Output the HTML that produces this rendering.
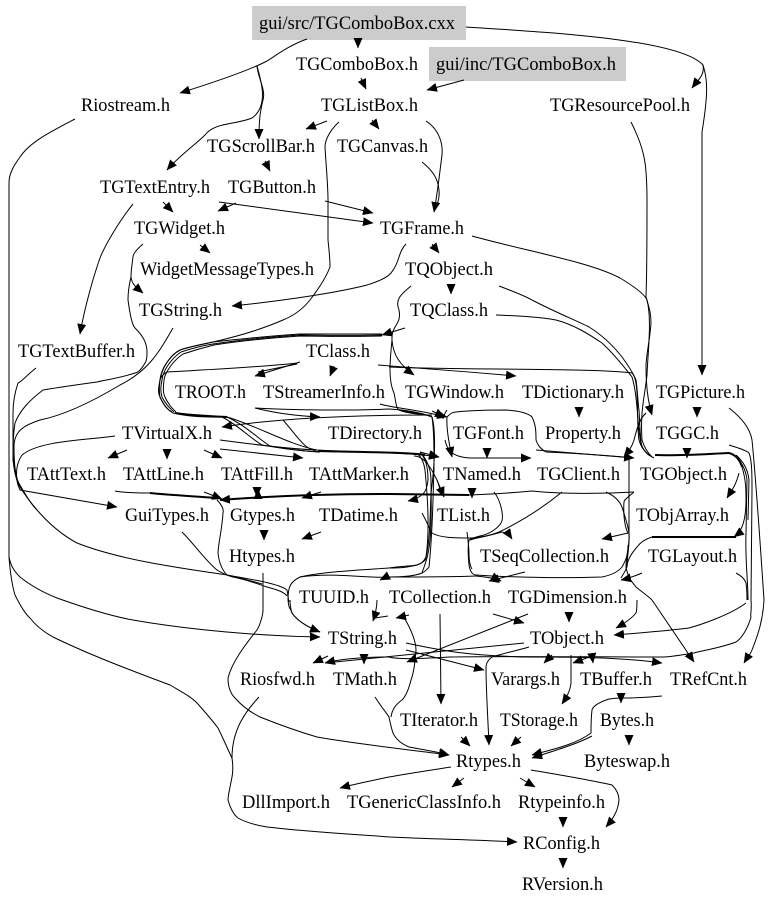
<!DOCTYPE html>
<html><head><meta charset="utf-8"><style>
html,body{margin:0;padding:0;background:#fff;width:779px;height:907px;overflow:hidden}
svg{display:block}
text{font-family:"Liberation Serif",serif;font-size:18.5px;fill:#000}
path{fill:none;stroke:#000;stroke-width:1}
path.a{marker-end:url(#h)}
path.t{stroke-width:2}
#h path{fill:#000;stroke:none}
</style></head><body>
<svg width="779" height="907" viewBox="0 0 779 907" xmlns="http://www.w3.org/2000/svg">
<defs><marker id="h" markerUnits="userSpaceOnUse" markerWidth="12" markerHeight="10" refX="10" refY="4.5" orient="auto"><path d="M0,0L10.5,4.5L0,9z"/></marker></defs>
<rect x="252" y="6" width="214" height="34" fill="#ccc"/>
<rect x="429" y="47" width="197" height="34" fill="#ccc"/>

<path class="a" d="M358,38L358,48"/>
<path class="a" d="M307,39C290,45 278,54 267,61C250,70 215,82 180,93"/>
<path class="a" d="M257,66C258,78 266,90 263,100C260,112 259,120 259,139"/>
<path class="a" d="M257,66C260,78 270,105 252,118C235,125 215,122 205,135C195,145 180,155 167,170"/>
<path class="a" d="M466,27C560,33 680,40 703,65C705,75 698,80 692,88"/>
<path class="a" d="M703,65C708,80 708,95 702,132L702,375"/>
<path class="a" d="M361,78L366,89"/>
<path class="a" d="M464,80L427,90"/>
<path class="a" d="M327,121L306,129"/>
<path class="a" d="M372,120L379,129"/>
<path class="a" d="M426,121C440,130 443,145 442,155C440,170 438,190 434,212"/>
<path d="M422,162C432,170 438,178 439,190C440,198 437,205 434,212"/>
<path class="a" d="M265,161L270,171"/>
<path class="a" d="M236,203L218,211"/>
<path class="a" d="M325,201L373,213"/>
<path class="a" d="M219,202L373,223"/>
<path class="a" d="M163,202L173,212"/>
<path class="a" d="M133,204C120,220 105,245 100,258C95,272 85,305 80,334"/>
<path class="a" d="M200,245L210,253"/>
<path class="a" d="M143,244C136,250 133,254 133,257C132,265 131,270 131,277C132,285 137,288 143,293"/>
<path d="M131,277C129,285 128,295 128,300C130,315 132,325 135,328C142,335 147,342 147,352C147,358 146,362 145,363C140,372 136,373 135,373C120,378 105,380 97,382C75,385 55,388 43,390C30,400 20,410 15,423C13,435 13,445 13,453C14,465 16,475 17,480C24,492 30,503 37,510C50,525 62,535 77,543C120,560 180,568 227,575C255,580 280,584 287,590C288,595 288,598 289,602"/>
<path d="M173,328C160,350 150,370 120,385C95,400 65,415 40,420C25,425 15,430 14,445C14,465 15,475 20,487C28,500 34,506 37,510"/>

<path class="a" d="M432,244L439,253"/>
<path class="a" d="M406,244C398,252 400,262 391,273C385,280 370,284 367,285C340,292 290,300 232,306"/>
<path class="a" d="M451,284L451,294"/>
<path class="a" d="M411,286C400,295 395,300 399,310C402,325 391,325 392,340C393,355 400,365 414,375"/>
<path d="M392,340C390,360 388,380 394,393C396,402 396,408 399,410C410,415 425,413 432,417C436,430 435,465 431,493C430,520 430,540 426,557C423,563 420,564 417,565C405,568 398,568 389,568C360,570 320,572 300,577C290,582 288,587 288,600C289,610 290,607 292,613C298,622 310,628 320,632"/>
<path class="a" d="M339,122C330,130 325,140 325,147C326,165 328,185 328,200C328,215 328,225 328,240C329,250 330,258 330,267C325,280 316,292 310,300C302,310 293,316 283,320C260,330 235,337 213,342C198,345 188,347 180,350C170,355 162,368 160,380C159,388 159,392 160,397C164,406 168,410 173,413C195,418 212,417 227,417C255,425 290,445 317,450C350,452 410,452 439,457"/>
<path d="M472,236C530,252 590,262 620,278C635,287 645,295 647,300C652,320 648,350 647,375C645,395 640,410 642,440C645,450 650,455 652,457"/>
<path d="M499,286C515,292 525,296 532,300C555,312 575,320 589,327C605,337 615,348 622,357C630,368 634,375 636,380C638,395 638,405 639,410C640,425 640,440 642,447C645,452 650,456 654,458"/>
<path d="M496,315C520,316 540,317 556,320C575,325 590,335 602,343C615,355 625,368 632,377C636,390 636,400 637,407C638,420 639,435 641,443C643,450 646,453 650,456"/>
<path class="a" d="M405,328L382,335"/>
<path d="M382,334C350,334 320,334 300,334C270,336 240,339 213,342C200,345 188,347 180,350C170,356 161,368 160,380C158,390 158,393 160,397C164,406 168,410 172,412"/>
<path d="M382,335C350,336 320,335 300,335C270,337 240,340 213,344C200,346 190,349 181,352C172,358 163,370 162,380C160,390 161,393 162,397C166,405 170,408 174,412"/>
<path d="M382,336C350,337 320,336 300,336C270,338 240,341 214,345C202,348 192,351 183,354C174,360 165,372 164,380C163,390 163,393 165,397C168,404 172,408 176,412"/>
<path class="t" d="M175,413C195,416 212,416 227,417"/>
<path d="M227,417C245,425 260,440 270,446C290,450 305,451 320,452"/>
<path d="M222,417C238,425 250,438 262,445C285,449 300,451 320,452"/>
<path class="t" d="M318,451C350,452 410,452 425,455"/>
<path class="a" d="M300,362L255,376"/>
<path d="M297,364L258,372"/>
<path d="M298,363C250,368 200,370 167,372C163,374 161,377 160,380"/>
<path class="a" d="M334,366L330,376"/>
<path class="a" d="M378,365C420,368 470,372 516,376"/>
<path d="M389,367C450,370 600,368 632,373C640,380 636,420 639,440C641,448 645,452 649,455"/>
<path class="a" d="M255,408C275,413 295,416 320,417"/>
<path d="M255,408C310,411 370,410 389,409C410,410 425,414 432,417"/>
<path class="a" d="M432,411L445,417"/>
<path d="M283,420C292,430 300,442 307,447C312,450 316,452 320,452"/>
<path class="a" d="M432,415C350,415 280,418 222,427"/>
<path class="a" d="M127,450L108,458"/>
<path class="a" d="M167,449L167,459"/>
<path class="a" d="M204,450L222,458"/>
<path class="a" d="M220,449L303,458"/>
<path d="M220,440C250,444 290,449 317,450"/>
<path class="a" d="M115,436C90,440 40,440 22,455C15,465 15,480 20,490L117,507"/>

<path class="t" d="M150,493C170,495 190,496 217,498"/>
<path d="M115,491C125,493 140,493 150,493"/>
<path class="a" d="M204,492L222,499"/>
<path class="a t" d="M390,494C330,494 270,496 220,500"/>
<path class="t" d="M390,494L469,495"/>
<path d="M469,495C500,494 520,492 532,491C560,494 600,494 634,492"/>
<path class="a" d="M257,490L257,497"/>
<path class="a" d="M258,498L258,489"/>
<path class="a" d="M321,492L302,498"/>
<path class="a" d="M472,490L472,498"/>
<path class="a" d="M321,532L302,539"/>
<path class="a" d="M264,532L264,540"/>
<path d="M606,492C615,496 620,502 622,507C626,520 628,525 629,533C630,545 626,555 626,567C628,578 632,582 636,587C642,592 648,596 652,600"/>
<path class="a" d="M652,600L694,662"/>
<path class="a" d="M634,492C628,497 624,500 624,502C623,515 625,528 628,533L602,539"/>
<path d="M414,456C425,456 432,470 437,480C439,485 440,490 440,492"/>
<path class="a" d="M437,480L444,497"/>
<path class="a" d="M420,452L439,457"/>
<path class="a" d="M420,452C425,458 428,465 428,480C427,490 425,497 408,501"/>
<path d="M422,454C428,462 431,470 431,480C431,490 432,520 430,540C428,560 424,566 422,573C415,576 400,577 389,577C370,579 335,572 300,577"/>
<path d="M399,410C410,413 425,413 432,417C434,430 434,450 434,470C433,490 433,530 429,567C426,571 424,572 422,573"/>
<path d="M389,568C400,566 414,566 417,565C424,562 426,560 426,557C430,530 427,490 425,470C424,463 422,458 418,454"/>
<path d="M494,492C498,497 500,503 501,507C503,515 503,520 501,523C498,528 490,534 480,536C476,537 472,538 469,540C468,545 468,555 469,565C470,572 473,575 476,575C520,578 570,578 602,577C612,575 618,572 622,567C626,560 628,555 628,545"/>
<path d="M422,513C427,522 430,530 432,533C440,538 455,538 472,538C485,537 495,534 502,532"/>
<path class="a" d="M502,532C507,533 510,536 512,539"/>
<path d="M467,532C468,540 469,548 469,553C469,560 470,566 472,569"/>
<path d="M562,492C540,510 520,522 499,532C490,536 480,537 470,540"/>
<path class="a" d="M525,572L489,581"/>
<path d="M476,576C450,577 410,577 390,577"/>
<path class="a" d="M390,577C388,577 384,578 380,580"/>
<path class="a" d="M476,576C485,577 495,578 501,581"/>

<path class="a" d="M447,417C446,430 450,448 452,457"/>
<path class="a" d="M380,404C392,408 410,408 447,417"/>
<path class="a" d="M487,448L487,458"/>
<path class="a" d="M445,440C447,450 452,457 470,458C490,458 510,458 531,458"/>
<path d="M447,410C445,413 443,416 443,419"/>
<path d="M447,417C450,414 452,412 456,412C475,410 490,410 506,410C520,411 528,413 532,417C536,425 536,432 536,440C538,446 541,449 546,452C570,453 600,455 624,457"/>
<path class="a" d="M536,450C570,453 600,455 634,458"/>
<path class="a" d="M646,413C640,418 637,428 634,440C632,447 628,452 624,457"/>
<path class="a" d="M579,407L579,417"/>
<path class="a" d="M697,407L697,417"/>
<path class="a" d="M631,122C640,140 645,155 646,172C647,185 647,190 647,200C647,230 647,270 646,297C650,310 651,315 651,323C650,340 646,355 646,367C646,385 648,402 652,415"/>
<path d="M646,413C642,417 640,420 639,425"/>
<path d="M629,457L629,533C630,545 627,555 627,567"/>
<path class="t" d="M655,455C680,456 705,454 729,453C736,455 740,460 742,467"/>
<path d="M733,454C741,460 746,470 747,480L746,533C745,560 748,580 748,600"/>
<path d="M736,455C744,462 748,470 749,480L748,520"/>
<path class="a" d="M742,467C746,480 746,490 746,500C746,515 744,522 742,527C740,531 738,534 734,537"/>
<path class="a" d="M687,448L687,458"/>
<path class="a" d="M739,473C736,485 732,490 727,498"/>
<path class="t" d="M736,537C710,537 680,537 652,537"/>
<path d="M652,537C645,539 640,543 637,547C630,555 627,562 627,567C625,572 622,576 621,578"/>
<path class="a" d="M642,573C635,576 630,578 621,580"/>
<path d="M729,408C742,418 750,428 752,440C756,480 760,540 764,600C763,620 758,635 752,650"/>
<path class="a" d="M752,650C750,655 747,658 744,663"/>
<path d="M729,445C738,448 746,450 749,453C752,460 752,475 752,490L751,600C752,610 750,615 751,617C748,628 742,638 736,642C720,648 705,650 694,653C680,655 670,657 662,657C600,657 500,656 450,657C430,658 400,660 389,657"/>
<path class="a" d="M389,657C370,657 345,658 325,663"/>
<path d="M736,573C742,576 745,580 746,583C747,590 747,597 747,600"/>
<path class="a" d="M746,603C730,615 700,625 689,628C665,631 640,633 614,635"/>
<path class="a" d="M637,600C637,606 637,610 636,613C632,618 625,623 616,628"/>

<path class="a" d="M75,119C50,132 30,142 20,157C12,168 9,175 9,183L9,557C11,567 15,572 20,577C30,585 42,592 57,598C85,608 110,616 133,620C190,630 260,636 320,637"/>
<path class="a" d="M9,557C10,570 12,585 15,595C20,605 25,614 30,618C36,626 44,632 53,637C90,655 130,670 170,685C180,691 190,696 197,703C205,712 212,720 218,728C224,740 228,750 232,758C233,765 233,772 232,777C230,788 228,795 228,800C230,808 234,815 238,818C245,822 255,825 267,827C310,832 350,834 390,837C430,839 480,840 517,842"/>
<path d="M36,368C26,376 20,383 18,383C14,395 13,405 13,413L13,460C14,468 15,478 20,487"/>
<path class="a" d="M290,600C290,606 291,610 292,613C298,622 310,628 320,632"/>
<path class="a" d="M263,573L263,610C263,615 260,625 257,630C245,645 232,662 228,678C228,688 231,694 235,698C242,706 250,712 260,717C280,725 300,732 317,737C350,743 410,750 449,755"/>
<path d="M182,532C195,545 205,560 217,570C222,573 228,576 233,577C248,580 258,584 267,587C278,590 284,592 287,596"/>
<path d="M217,500C222,505 224,510 223,513C222,530 218,545 218,553C219,562 222,570 227,575C240,578 255,582 262,584"/>
<path d="M259,697C245,712 232,730 232,758"/>
<path class="a" d="M375,697C382,708 388,715 389,717C391,726 392,732 394,735C398,741 402,744 409,747C425,750 438,752 449,755"/>
<path d="M405,619C410,628 416,640 416,650C415,662 414,672 411,680C409,688 406,696 402,700C395,705 392,710 391,717"/>
<path class="a" d="M409,615L396,618"/>
<path class="a" d="M377,600C377,606 376,612 373,621"/>
<path d="M388,616L375,618"/>
<path class="a" d="M440,614L441,704"/>
<path class="a" d="M493,614L524,623"/>
<path class="a" d="M569,612L569,622"/>
<path class="a" d="M528,614L407,662"/>
<path d="M524,643L325,663"/>
<path class="a" d="M529,647C515,651 505,653 492,657C488,660 486,663 486,667C486,690 488,720 489,745"/>
<path class="a" d="M552,655L544,663"/>
<path class="a" d="M592,655L593,663"/>
<path class="a" d="M592,656L573,663"/>
<path class="a" d="M571,655C571,665 571,675 571,683C570,692 566,698 562,704"/>
<path class="a" d="M406,650L484,670"/>
<path class="a" d="M406,643C420,646 430,648 442,650C470,655 500,656 522,657C570,657 620,657 662,663"/>
<path class="a" d="M328,656L313,663"/>
<path class="a" d="M364,655L364,664"/>
<path d="M662,696C640,698 630,698 622,698"/>
<path class="a" d="M621,694L621,703"/>
<path class="a" d="M622,698C615,698 609,699 609,699C600,702 593,706 592,710C591,718 591,726 591,733C575,745 550,750 532,755"/>
<path class="a" d="M592,736C575,745 550,752 532,758"/>
<path class="a" d="M629,735L629,745"/>
<path class="a" d="M461,737L470,746"/>
<path class="a" d="M521,737L511,746"/>
<path class="a" d="M451,767C425,771 405,774 389,777C370,781 355,784 340,788"/>
<path class="a" d="M464,778L452,787"/>
<path class="a" d="M520,778L535,787"/>
<path class="a" d="M531,770C560,775 590,780 612,785C617,790 619,795 619,800C618,812 612,820 606,827"/>
<path class="a" d="M563,817L563,827"/>
<path class="a" d="M563,858L563,868"/>

<text x="259" y="29" textLength="196" lengthAdjust="spacingAndGlyphs">gui/src/TGComboBox.cxx</text>
<text x="296" y="70" textLength="122" lengthAdjust="spacingAndGlyphs">TGComboBox.h</text>
<text x="436" y="70" textLength="180" lengthAdjust="spacingAndGlyphs">gui/inc/TGComboBox.h</text>
<text x="81" y="111" textLength="89" lengthAdjust="spacingAndGlyphs">Riostream.h</text>
<text x="321" y="111" textLength="97" lengthAdjust="spacingAndGlyphs">TGListBox.h</text>
<text x="550" y="111" textLength="140" lengthAdjust="spacingAndGlyphs">TGResourcePool.h</text>
<text x="207" y="152" textLength="108" lengthAdjust="spacingAndGlyphs">TGScrollBar.h</text>
<text x="337" y="152" textLength="91" lengthAdjust="spacingAndGlyphs">TGCanvas.h</text>
<text x="100" y="193" textLength="110" lengthAdjust="spacingAndGlyphs">TGTextEntry.h</text>
<text x="228" y="193" textLength="88" lengthAdjust="spacingAndGlyphs">TGButton.h</text>
<text x="134" y="234" textLength="91" lengthAdjust="spacingAndGlyphs">TGWidget.h</text>
<text x="380" y="234" textLength="84" lengthAdjust="spacingAndGlyphs">TGFrame.h</text>
<text x="140" y="275" textLength="174" lengthAdjust="spacingAndGlyphs">WidgetMessageTypes.h</text>
<text x="405" y="275" textLength="88" lengthAdjust="spacingAndGlyphs">TQObject.h</text>
<text x="139" y="316" textLength="83" lengthAdjust="spacingAndGlyphs">TGString.h</text>
<text x="410" y="316" textLength="78" lengthAdjust="spacingAndGlyphs">TQClass.h</text>
<text x="18" y="357" textLength="117" lengthAdjust="spacingAndGlyphs">TGTextBuffer.h</text>
<text x="306" y="357" textLength="64" lengthAdjust="spacingAndGlyphs">TClass.h</text>
<text x="175" y="398" textLength="71" lengthAdjust="spacingAndGlyphs">TROOT.h</text>
<text x="263" y="398" textLength="122" lengthAdjust="spacingAndGlyphs">TStreamerInfo.h</text>
<text x="405" y="398" textLength="99" lengthAdjust="spacingAndGlyphs">TGWindow.h</text>
<text x="522" y="398" textLength="102" lengthAdjust="spacingAndGlyphs">TDictionary.h</text>
<text x="656" y="398" textLength="89" lengthAdjust="spacingAndGlyphs">TGPicture.h</text>
<text x="122" y="439" textLength="90" lengthAdjust="spacingAndGlyphs">TVirtualX.h</text>
<text x="328" y="439" textLength="94" lengthAdjust="spacingAndGlyphs">TDirectory.h</text>
<text x="453" y="439" textLength="71" lengthAdjust="spacingAndGlyphs">TGFont.h</text>
<text x="545" y="439" textLength="76" lengthAdjust="spacingAndGlyphs">Property.h</text>
<text x="656" y="439" textLength="63" lengthAdjust="spacingAndGlyphs">TGGC.h</text>
<text x="27" y="480" textLength="79" lengthAdjust="spacingAndGlyphs">TAttText.h</text>
<text x="123" y="480" textLength="81" lengthAdjust="spacingAndGlyphs">TAttLine.h</text>
<text x="221" y="480" textLength="72" lengthAdjust="spacingAndGlyphs">TAttFill.h</text>
<text x="309" y="480" textLength="100" lengthAdjust="spacingAndGlyphs">TAttMarker.h</text>
<text x="443" y="480" textLength="78" lengthAdjust="spacingAndGlyphs">TNamed.h</text>
<text x="537" y="480" textLength="83" lengthAdjust="spacingAndGlyphs">TGClient.h</text>
<text x="640" y="480" textLength="87" lengthAdjust="spacingAndGlyphs">TGObject.h</text>
<text x="125" y="521" textLength="84" lengthAdjust="spacingAndGlyphs">GuiTypes.h</text>
<text x="230" y="521" textLength="65" lengthAdjust="spacingAndGlyphs">Gtypes.h</text>
<text x="319" y="521" textLength="79" lengthAdjust="spacingAndGlyphs">TDatime.h</text>
<text x="437" y="521" textLength="53" lengthAdjust="spacingAndGlyphs">TList.h</text>
<text x="636" y="521" textLength="93" lengthAdjust="spacingAndGlyphs">TObjArray.h</text>
<text x="229" y="562" textLength="66" lengthAdjust="spacingAndGlyphs">Htypes.h</text>
<text x="480" y="562" textLength="129" lengthAdjust="spacingAndGlyphs">TSeqCollection.h</text>
<text x="648" y="562" textLength="89" lengthAdjust="spacingAndGlyphs">TGLayout.h</text>
<text x="299" y="603" textLength="70" lengthAdjust="spacingAndGlyphs">TUUID.h</text>
<text x="389" y="603" textLength="102" lengthAdjust="spacingAndGlyphs">TCollection.h</text>
<text x="508" y="603" textLength="119" lengthAdjust="spacingAndGlyphs">TGDimension.h</text>
<text x="328" y="644" textLength="69" lengthAdjust="spacingAndGlyphs">TString.h</text>
<text x="530" y="644" textLength="74" lengthAdjust="spacingAndGlyphs">TObject.h</text>
<text x="240" y="685" textLength="75" lengthAdjust="spacingAndGlyphs">Riosfwd.h</text>
<text x="333" y="685" textLength="64" lengthAdjust="spacingAndGlyphs">TMath.h</text>
<text x="491" y="685" textLength="69" lengthAdjust="spacingAndGlyphs">Varargs.h</text>
<text x="580" y="685" textLength="72" lengthAdjust="spacingAndGlyphs">TBuffer.h</text>
<text x="670" y="685" textLength="77" lengthAdjust="spacingAndGlyphs">TRefCnt.h</text>
<text x="400" y="726" textLength="78" lengthAdjust="spacingAndGlyphs">TIterator.h</text>
<text x="500" y="726" textLength="78" lengthAdjust="spacingAndGlyphs">TStorage.h</text>
<text x="600" y="726" textLength="54" lengthAdjust="spacingAndGlyphs">Bytes.h</text>
<text x="456" y="767" textLength="65" lengthAdjust="spacingAndGlyphs">Rtypes.h</text>
<text x="584" y="767" textLength="86" lengthAdjust="spacingAndGlyphs">Byteswap.h</text>
<text x="242" y="808" textLength="88" lengthAdjust="spacingAndGlyphs">DllImport.h</text>
<text x="347" y="808" textLength="154" lengthAdjust="spacingAndGlyphs">TGenericClassInfo.h</text>
<text x="518" y="808" textLength="87" lengthAdjust="spacingAndGlyphs">Rtypeinfo.h</text>
<text x="523" y="849" textLength="77" lengthAdjust="spacingAndGlyphs">RConfig.h</text>
<text x="522" y="890" textLength="81" lengthAdjust="spacingAndGlyphs">RVersion.h</text>
</svg>
</body></html>
